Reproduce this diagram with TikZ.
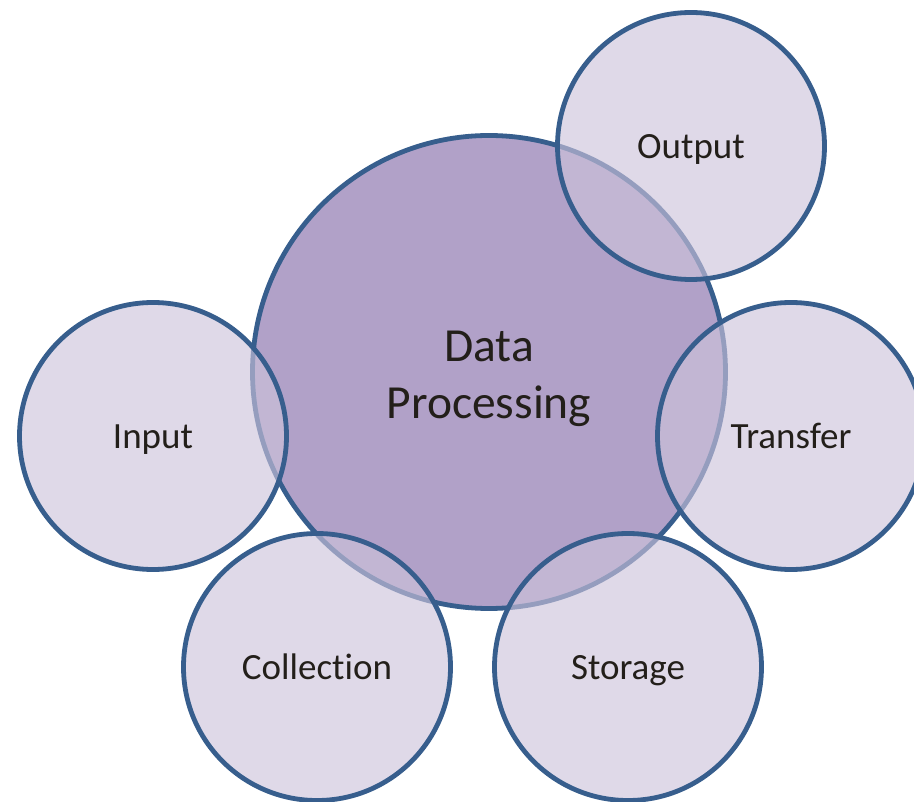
\documentclass[tikz,border=0pt]{standalone}
\usepackage{fontspec}
\setmainfont{Carlito}[Ligatures=CommonOff]
\definecolor{ringblue}{HTML}{375E8D}
\definecolor{corefill}{HTML}{B1A1C8}
\definecolor{leaffill}{RGB}{204,195,219}
\definecolor{inktext}{HTML}{231F1A}
\tikzset{
  core/.style={circle, draw=ringblue, line width=4.8pt, fill=corefill,
    minimum size=473pt, inner sep=0pt},
  coretext/.style={text=inktext, align=center,
    font=\fontsize{47.5}{57}\selectfont},
  leaf/.style={circle, draw=ringblue, line width=4.8pt, fill=leaffill,
    fill opacity=0.63, text opacity=1, draw opacity=1,
    minimum size=267pt, inner sep=0pt, text=inktext,
    text height=25.5pt, text depth=0pt,
    font=\fontsize{37}{44}\selectfont}
}
\begin{document}
\begin{tikzpicture}[x=1pt,y=-1pt]
  \useasboundingbox (0,0) rectangle (914,802);
  \node[core] (dp) at (489,372) {};
  \node[coretext] (dplabel) at (489,379) {Data\\Processing};
  \node[leaf] (out) at (691,146) {Output};
  \node[leaf] (in) at (153,436) {Input};
  \node[leaf] (tr) at (791,436) {Transfer};
  \node[leaf] (col) at (317,667) {Collection};
  \node[leaf] (sto) at (628,667) {Storage};
\end{tikzpicture}
\end{document}
